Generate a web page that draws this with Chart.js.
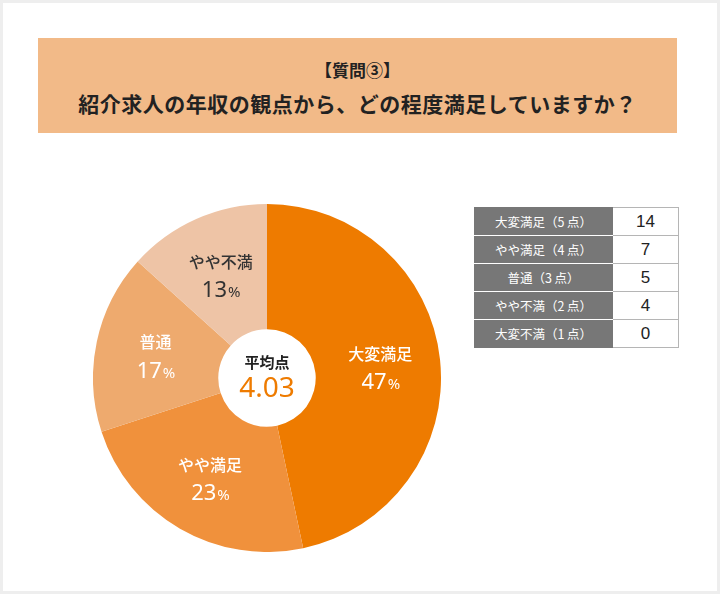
<!DOCTYPE html>
<html lang="ja">
<head>
<meta charset="utf-8">
<script src="https://cdn.jsdelivr.net/npm/chart.js@4/dist/chart.umd.min.js"></script>
<style>
  body { margin: 0; background: #fff; font-family: "Noto Sans CJK JP", "Noto Sans", sans-serif; }
  #frame { position: relative; width: 714px; height: 588px; border: 3px solid #eeeeee; background: #fff; }
  #title { position: absolute; left: 35px; top: 35px; width: 639px; height: 95px; background: #f2ba88; color: #222;
           text-align: center; font-weight: bold; }
  #title .t1 { position: absolute; left: 0; right: 0; top: 19px; font-size: 17px; }
  #title .t2 { position: absolute; left: 0; right: 0; top: 50px; font-size: 21px; letter-spacing: 0.5px; }
  #pieBox { position: absolute; left: 90px; top: 201px; width: 348px; height: 348px; }
  #tbl { position: absolute; left: 471px; top: 204px; border-collapse: collapse; }
  #tbl td { height: 27px; padding: 0; border: 1px solid #b5b5b5; }
  #tbl td.k { width: 137px; background: #777777; color: #fff; font-size: 12.5px; text-align: center;
              border-color: #ffffff #777777 #ffffff #777777; }
  #tbl tr:first-child td.k { border-top-color: #777777; }
  #tbl tr:last-child td.k { border-bottom-color: #777777; }
  #tbl td.v { width: 65px; background: #fff; color: #222; font-size: 17px; text-align: center;
              font-family: "Liberation Sans", sans-serif; }
</style>
</head>
<body>
<div id="frame">
  <div id="title">
    <div class="t1">【質問③】</div>
    <div class="t2">紹介求人の年収の観点から、どの程度満足していますか？</div>
  </div>
  <div id="pieBox"><canvas id="pie"></canvas></div>
  <table id="tbl"></table>
</div>
<script>
// answers, shown clockwise from 12 o'clock
const categories = ['大変満足', 'やや満足', '普通', 'やや不満', '大変不満'];
const tableLabels = ['大変満足（5 点）', 'やや満足（4 点）', '普通（3 点）', 'やや不満（2 点）', '大変不満（1 点）'];
const counts = [14, 7, 5, 4, 0];
const points = [5, 4, 3, 2, 1];
const sliceColors = ['#ee7b00', '#f0913c', '#eeaa6e', '#eec4a6', '#f5dcc8'];
const labelColors = ['#ffffff', '#ffffff', '#ffffff', '#333333', '#333333'];

const total = counts.reduce((a, b) => a + b, 0);
const average = counts.reduce((s, c, i) => s + c * points[i], 0) / total;

// table on the right
const tbl = document.getElementById('tbl');
tableLabels.forEach((lab, i) => {
  const tr = document.createElement('tr');
  tr.innerHTML = '<td class="k">' + lab + '</td><td class="v">' + counts[i] + '</td>';
  tbl.appendChild(tr);
});

// slice labels + average in the hole
const labelPlugin = {
  id: 'sliceLabels',
  afterDatasetsDraw(chart) {
    const ctx = chart.ctx;
    const meta = chart.getDatasetMeta(0);
    ctx.save();
    ctx.textAlign = 'center';
    ctx.textBaseline = 'middle';
    meta.data.forEach((arc, i) => {
      if (!counts[i]) return;
      const mid = (arc.startAngle + arc.endAngle) / 2;
      const r = arc.outerRadius * 0.655;
      const x = arc.x + Math.cos(mid) * r;
      const y = arc.y + Math.sin(mid) * r;
      ctx.fillStyle = labelColors[i];
      ctx.font = '500 16px "Noto Sans CJK JP"';
      ctx.fillText(categories[i], x, y - 12);
      const pct = String(Math.round(counts[i] / total * 100));
      ctx.font = '22px "Noto Sans", sans-serif';
      const w1 = ctx.measureText(pct).width;
      ctx.font = '15px "Noto Sans", sans-serif';
      const w2 = ctx.measureText('%').width;
      const x0 = x - (w1 + w2) / 2;
      ctx.textAlign = 'left';
      ctx.font = '22px "Noto Sans", sans-serif';
      ctx.fillText(pct, x0, y + 17);
      ctx.font = '15px "Noto Sans", sans-serif';
      ctx.fillText('%', x0 + w1 + 1, y + 19);
      ctx.textAlign = 'center';
    });
    const c = meta.data[0];
    ctx.fillStyle = '#222';
    ctx.font = 'bold 15px "Noto Sans CJK JP"';
    ctx.fillText('平均点', c.x, c.y - 16);
    ctx.fillStyle = '#ee7b00';
    ctx.font = '28px "Noto Sans", sans-serif';
    ctx.fillText(average.toFixed(2), c.x, c.y + 11);
    ctx.restore();
  }
};

new Chart(document.getElementById('pie'), {
  type: 'doughnut',
  data: {
    labels: categories,
    datasets: [{
      data: counts,
      backgroundColor: sliceColors,
      borderWidth: 0
    }]
  },
  options: {
    responsive: true,
    maintainAspectRatio: false,
    animation: false,
    cutout: '28%',
    layout: { padding: 0 },
    plugins: { legend: { display: false }, tooltip: { enabled: false } }
  },
  plugins: [labelPlugin]
});
</script>
</body>
</html>
